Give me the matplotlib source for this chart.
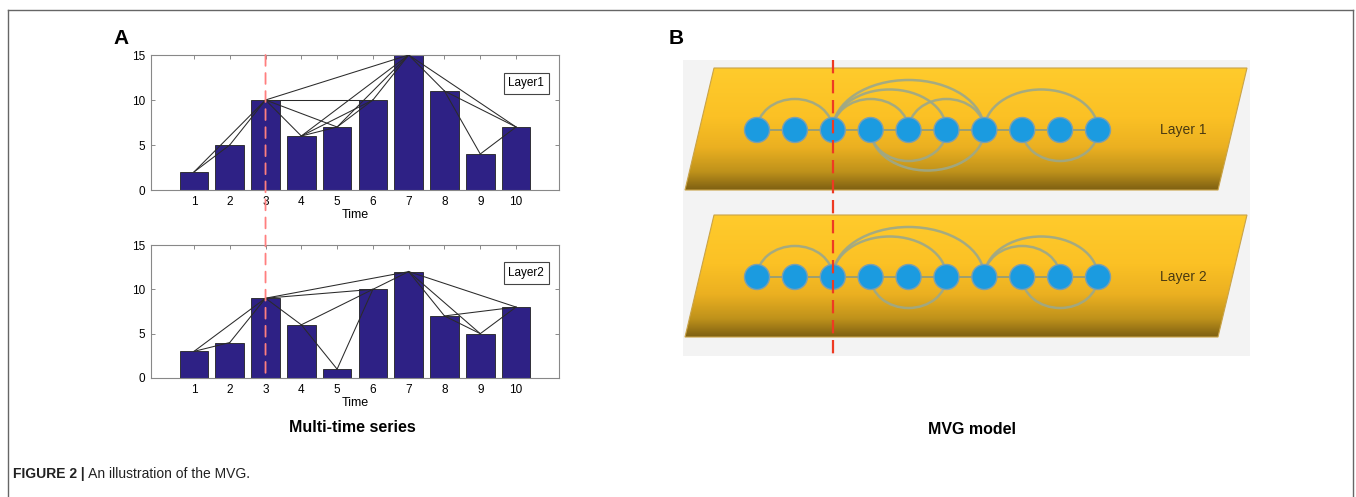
import numpy as np
import matplotlib
matplotlib.use('Agg')
import matplotlib.pyplot as plt
from matplotlib.patches import Polygon, Arc, Circle, ConnectionPatch, Rectangle
from matplotlib.lines import Line2D
from matplotlib.text import Annotation
from matplotlib.colors import LinearSegmentedColormap

plt.rcParams['font.family'] = ['Liberation Sans', 'DejaVu Sans']

# data
time = np.arange(1, 11)
layer1 = [2, 5, 10, 6, 7, 10, 15, 11, 4, 7]
layer2 = [3, 4, 9, 6, 1, 10, 12, 7, 5, 8]
bar_names = ['Layer1', 'Layer2']
mvg_names = ['Layer 1', 'Layer 2']
marked_time = 3
yticks = [0, 5, 10, 15]

W, H = 1356, 497


def px_box(l, t, r, b):
    return [l / W, 1 - b / H, (r - l) / W, (b - t) / H]


def visibility_edges(y):
    # natural visibility graph of a series
    n = len(y)
    edges = []
    for a in range(n):
        for b in range(a + 1, n):
            ok = True
            for c in range(a + 1, b):
                if y[c] >= y[b] + (y[a] - y[b]) * (b - c) / (b - a):
                    ok = False
                    break
            if ok:
                edges.append((a, b))
    return edges


def bar_panel(ax, y, name):
    ax.bar(time, y, width=0.8, color='#2e2185', edgecolor='#222222', lw=0.6, zorder=2)
    for a, b in visibility_edges(y):
        ax.plot([time[a], time[b]], [y[a], y[b]], color='#2a2a2a', lw=0.75, zorder=3)
    ax.set_xlim(-0.2, 11.2)
    ax.set_ylim(0, 15)
    ax.set_xticks(time)
    ax.set_yticks(yticks)
    ax.tick_params(direction='in', top=True, right=True, length=3, width=0.6,
                   labelsize=8.5, color='#777777')
    ax.tick_params(axis='x', pad=4)
    ax.tick_params(axis='y', pad=4)
    for s in ax.spines.values():
        s.set_color('#888888')
        s.set_linewidth(0.8)
    ax.set_xlabel('Time', fontsize=9, labelpad=1)
    ax.text(0.92, 0.79, name, transform=ax.transAxes, ha='center', va='center', fontsize=8.5,
            bbox=dict(boxstyle='square,pad=0.4', fc='white', ec='#444444', lw=0.8))


fig = plt.figure(figsize=(W / 100, H / 100), dpi=100)

# panel A
ax1 = fig.add_axes(px_box(151, 55, 559, 190))
ax2 = fig.add_axes(px_box(151, 245, 559, 378))
bar_panel(ax1, layer1, bar_names[0])
bar_panel(ax2, layer2, bar_names[1])
con = ConnectionPatch(xyA=(marked_time, 15), coordsA=ax1.transData,
                      xyB=(marked_time, 0), coordsB=ax2.transData,
                      color='#ff7f7f', lw=1.3, ls=(0, (6, 4)), zorder=5)
fig.add_artist(con)

# panel B: multiplex visibility graph sketch
axb = fig.add_axes(px_box(670, 50, 1260, 365))
axb.set_xlim(670, 1260)
axb.set_ylim(365, 50)
axb.axis('off')
axb.add_patch(Rectangle((683, 60), 567, 296, fc='#f3f3f3', ec='none', zorder=0))

gold = LinearSegmentedColormap.from_list(
    'gold', [(0, '#ffcb2c'), (0.4, '#fbc125'), (0.65, '#ebb021'),
             (0.85, '#bf921b'), (1, '#7e6012')])
grad = np.linspace(0, 1, 256)[:, None]
node_x = np.linspace(757, 1098, 10)

for k, (series, name, top) in enumerate(zip([layer1, layer2], mvg_names, [68, 215])):
    bot = top + 122
    poly = Polygon([(714, top), (1247, top), (1218, bot), (685, bot)], closed=True,
                   fc='none', ec='#c9a348', lw=0.8, zorder=2)
    axb.add_patch(poly)
    im = axb.imshow(grad, cmap=gold, extent=(685, 1247, bot, top), aspect='auto', zorder=1)
    im.set_clip_path(poly)
    ny = top + 62
    axb.plot([node_x[0], node_x[-1]], [ny, ny], color='#8c9a80', lw=1.2, zorder=3)
    for a, b in visibility_edges(series):
        span = b - a
        if span < 2:
            continue
        h = 12 + 9.5 * span
        cx = (node_x[a] + node_x[b]) / 2
        w = node_x[b] - node_x[a]
        if a % 2 == 0:
            t1, t2 = 180, 360
        else:
            t1, t2 = 0, 180
        axb.add_patch(Arc((cx, ny), w, 2 * h, theta1=t1, theta2=t2,
                          color='#9ca88a', lw=1.8, alpha=0.9, zorder=3))
    for x in node_x:
        axb.add_patch(Circle((x, ny), 12.5, fc='#1b9be0', ec='#7b9fb0', lw=1.0, zorder=4))
    axb.text(1183, ny, name, fontsize=10, color='#4a3a12', ha='center', va='center', zorder=5)

axb.plot([node_x[marked_time - 1]] * 2, [60, 356], color='#ee3a22', lw=1.6,
         ls=(0, (6, 3)), zorder=6)

# labels
fig.text(121 / W, 1 - 38 / H, 'A', fontsize=15, fontweight='bold', ha='center', va='center')
fig.text(676 / W, 1 - 38 / H, 'B', fontsize=15, fontweight='bold', ha='center', va='center')
fig.text(352 / W, 1 - 427 / H, 'Multi-time series', fontsize=11.5, fontweight='bold',
         ha='center', va='center')
fig.text(972 / W, 1 - 429 / H, 'MVG model', fontsize=11.5, fontweight='bold',
         ha='center', va='center')

t1 = fig.text(13 / W, 1 - 474 / H, 'FIGURE 2 |', fontsize=10, fontweight='bold',
              family=['Liberation Sans Narrow', 'Liberation Sans'], color='#222222',
              ha='left', va='center')
fig.add_artist(Annotation(' An illustration of the MVG.', xy=(1, 0.5), xycoords=t1,
                          fontsize=10, family=['Liberation Sans Narrow', 'Liberation Sans'],
                          color='#222222', ha='left', va='center'))

# outer frame (open at the bottom)
fc = '#666666'
fig.add_artist(Line2D([8 / W, 8 / W], [0, 1 - 10 / H], transform=fig.transFigure, color=fc, lw=1))
fig.add_artist(Line2D([8 / W, 1353 / W], [1 - 10 / H, 1 - 10 / H], transform=fig.transFigure, color=fc, lw=1))
fig.add_artist(Line2D([1353 / W, 1353 / W], [0, 1 - 10 / H], transform=fig.transFigure, color=fc, lw=1))

fig.savefig('out.png', dpi=100)
